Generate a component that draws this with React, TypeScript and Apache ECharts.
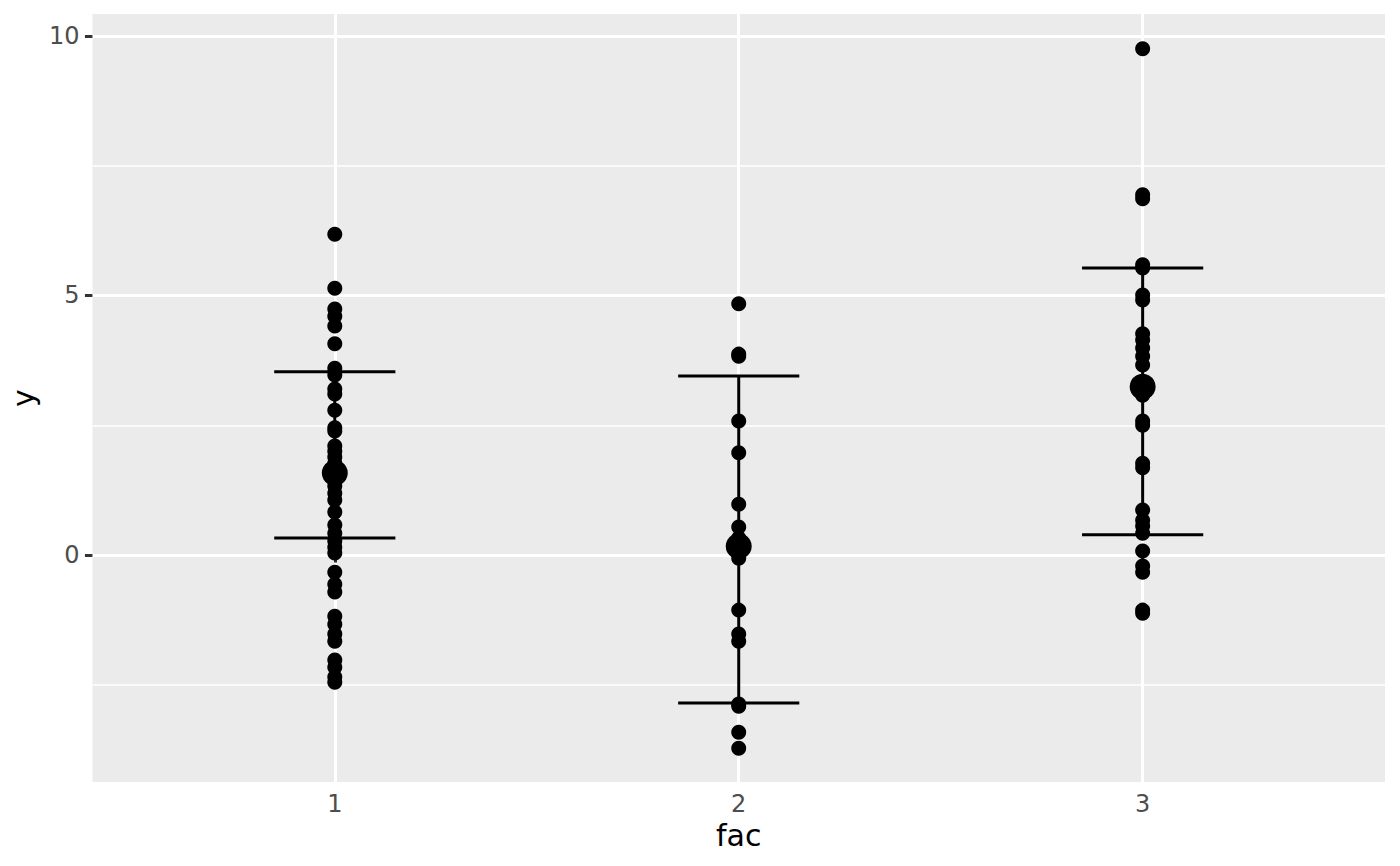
import React, { useEffect, useRef } from "react";
import * as echarts from "echarts";

const categories = ["1", "2", "3"];
const group1 = [6.18, 5.14, 4.74, 4.6, 4.41, 4.07, 3.6, 3.47, 3.2, 3.1, 2.79, 2.45, 2.39, 2.1, 2.0, 1.89, 1.77, 1.64, 1.46, 1.33, 1.19, 1.06, 0.83, 0.58, 0.42, 0.27, 0.15, 0.04, -0.33, -0.56, -0.71, -1.18, -1.33, -1.52, -1.66, -2.02, -2.16, -2.35, -2.45];
const group2 = [4.84, 3.87, 3.83, 2.58, 1.97, 0.98, 0.54, 0.33, -0.06, -1.06, -1.52, -1.66, -2.87, -2.91, -3.41, -3.72];
const group3 = [9.75, 6.94, 6.86, 5.59, 5.53, 5.01, 4.91, 4.26, 4.14, 3.99, 3.83, 3.66, 3.08, 2.58, 2.5, 1.77, 1.68, 0.87, 0.67, 0.56, 0.42, 0.08, -0.21, -0.33, -1.06, -1.12];
const means = [1.58, 0.17, 3.24];
const lowers = [0.33, -2.85, 0.39];
const uppers = [3.53, 3.45, 5.53];
const yTicks = [0, 5, 10];
const yMinorTicks = [-2.5, 2.5, 7.5];
const xTicks = [1, 2, 3];

const FONT = "DejaVu Sans";

export default function App() {
  const ref = useRef<HTMLDivElement>(null);
  useEffect(() => {
    if (!ref.current) return;
    const chart = echarts.init(ref.current, null, { renderer: "svg" });
    const groups = [group1, group2, group3];
    const pts: number[][] = [];
    groups.forEach((g, i) => g.forEach((v) => pts.push([i + 1, v])));
    const errData = categories.map((_, i) => [i + 1, lowers[i], uppers[i]]);
    const meanData = categories.map((_, i) => [i + 1, means[i]]);

    chart.setOption({
      animation: false,
      backgroundColor: "#FFFFFF",
      grid: {
        left: 92,
        right: 15,
        top: 14,
        bottom: 84,
        show: true,
        backgroundColor: "#EBEBEB",
        borderWidth: 0,
      },
      xAxis: {
        type: "value",
        min: 0.4,
        max: 3.6,
        name: "fac",
        nameLocation: "middle",
        nameGap: 36,
        nameTextStyle: { fontFamily: FONT, fontSize: 30, color: "#000000" },
        axisLine: { show: false },
        axisTick: {
          show: true,
          length: 7.5,
          customValues: xTicks,
          lineStyle: { color: "#333333", width: 3 },
        },
        axisLabel: {
          customValues: xTicks,
          margin: 10,
          fontFamily: FONT,
          fontSize: 24,
          color: "#4D4D4D",
          formatter: (v: number) => categories[Math.round(v) - 1] ?? "",
        },
        splitLine: { show: true, lineStyle: { color: "#FFFFFF", width: 3 } },
      },
      yAxis: {
        type: "value",
        min: -4.37,
        max: 10.42,
        name: "y",
        nameLocation: "middle",
        nameGap: 50,
        nameTextStyle: { fontFamily: FONT, fontSize: 30, color: "#000000" },
        axisLine: { show: false },
        axisTick: {
          show: true,
          length: 7.5,
          customValues: yTicks,
          lineStyle: { color: "#333333", width: 3 },
        },
        axisLabel: {
          customValues: yTicks,
          margin: 13,
          fontFamily: FONT,
          fontSize: 24,
          color: "#4D4D4D",
        },
        splitLine: { show: true, lineStyle: { color: "#FFFFFF", width: 3 } },
      },
      series: [
        {
          type: "scatter",
          data: [],
          z: 1,
          silent: true,
          markLine: {
            z: 1,
            silent: true,
            symbol: "none",
            label: { show: false },
            emphasis: { disabled: true },
            lineStyle: { color: "#FFFFFF", width: 1.5, type: "solid", opacity: 1 },
            data: yMinorTicks.map((v) => ({ yAxis: v })),
          },
        },
        {
          type: "custom",
          z: 2,
          data: errData,
          encode: { x: 0, y: [1, 2] },
          renderItem: (params: any, api: any) => {
            const x = api.value(0);
            const lo = api.value(1);
            const hi = api.value(2);
            const pLo = api.coord([x, lo]);
            const pHi = api.coord([x, hi]);
            const half = api.size([0.15, 0])[0];
            const style = { stroke: "#000000", lineWidth: 3 };
            return {
              type: "group",
              children: [
                { type: "line", shape: { x1: pLo[0], y1: pLo[1], x2: pHi[0], y2: pHi[1] }, style },
                { type: "line", shape: { x1: pLo[0] - half, y1: pLo[1], x2: pLo[0] + half, y2: pLo[1] }, style },
                { type: "line", shape: { x1: pHi[0] - half, y1: pHi[1], x2: pHi[0] + half, y2: pHi[1] }, style },
              ],
            };
          },
        },
        {
          type: "scatter",
          z: 3,
          data: pts,
          symbol: "circle",
          symbolSize: 15,
          itemStyle: { color: "#000000", opacity: 1 },
        },
        {
          type: "scatter",
          z: 4,
          data: meanData,
          symbol: "circle",
          symbolSize: 26,
          itemStyle: { color: "#000000", opacity: 1 },
        },
      ],
    });
    return () => chart.dispose();
  }, []);
  return (
    <div
      ref={ref}
      style={{ position: "absolute", left: 0, top: 0, width: 1400, height: 866 }}
    />
  );
}
